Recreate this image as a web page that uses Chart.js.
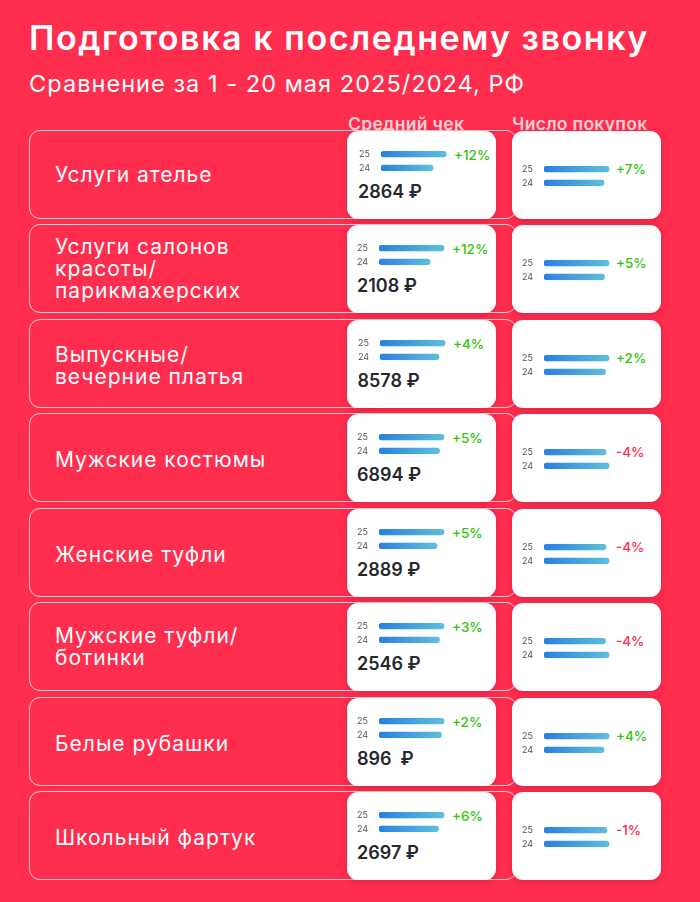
<!DOCTYPE html>
<html lang="ru">
<head>
<meta charset="utf-8">
<script src="https://cdn.jsdelivr.net/npm/chart.js@4"></script>
<style>
  html, body { margin: 0; padding: 0; }
  body {
    width: 700px; height: 902px; overflow: hidden; position: relative;
    background: #ff2d4e; font-family: Inter, "Noto Sans", sans-serif; color: #fff;
  }
  #title { position: absolute; left: 29px; top: 17px; font-size: 34px; font-weight: 600; letter-spacing: 1.55px; white-space: nowrap; }
  #subtitle { position: absolute; left: 29px; top: 69px; font-size: 23.5px; font-weight: 400; letter-spacing: 1.05px; white-space: nowrap; }
  .head { position: absolute; top: 113px; font-size: 17.5px; font-weight: 600; letter-spacing: .3px; color: #ffd0d8; white-space: nowrap; }
  .row {
    position: absolute; left: 29px; width: 486px; height: 87px; box-sizing: content-box;
    border: 1px solid rgba(255,255,255,.75); border-radius: 11px;
  }
  .name {
    position: absolute; left: 25px; height: 87px; display: flex; align-items: center;
    font-size: 21px; line-height: 22px; font-weight: 400; letter-spacing: 1px; white-space: pre-line;
  }
  .card {
    position: absolute; width: 149px; height: 88px; background: #fff; border-radius: 11px;
    box-shadow: 0 2px 7px rgba(150,20,50,.3);
  }
  .card canvas { position: absolute; }
  .delta { position: absolute; font-size: 13.5px; font-weight: 500; white-space: nowrap; }
  .price { position: absolute; top: 50px; font-size: 18px; font-weight: 600; color: #27272f; white-space: pre; }
</style>
</head>
<body>
<div id="title">Подготовка к последнему звонку</div>
<div id="subtitle">Сравнение за 1 - 20 мая 2025/2024, РФ</div>
<div class="head" style="left:348px">Средний чек</div>
<div class="head" style="left:512px">Число покупок</div>
<script>
const categories = ['Услуги ателье', 'Услуги салонов\nкрасоты/\nпарикмахерских', 'Выпускные/\nвечерние платья', 'Мужские костюмы',
  'Женские туфли', 'Мужские туфли/\nботинки', 'Белые рубашки', 'Школьный фартук']
const years = ['25', '24']
const check25 = [65, 65, 65, 65, 65, 65, 65, 65]
const check24 = [52, 51, 59, 60.5, 58, 60.5, 62.5, 59.5]
const checkDelta = ['+12%', '+12%', '+4%', '+5%', '+5%', '+3%', '+2%', '+6%']
const checkPrice = ['2864 ₽', '2108 ₽', '8578 ₽', '6894 ₽', '2889 ₽', '2546 ₽', '896  ₽', '2697 ₽']
const buys25 = [65, 65, 65, 62, 62, 61.5, 65, 63]
const buys24 = [60, 60.5, 61.5, 65, 65, 65, 60, 65]
const buysDelta = ['+7%', '+5%', '+2%', '-4%', '-4%', '-4%', '+4%', '-1%']

const rowTops = [131, 225, 320, 414, 509, 603, 698, 792]
const nameShift = [0, 0, 2, 2, 2, 0, 2, 2]
const checkShift = [2, 0, 1, 0, 0, 0, 0, 0]
const GREEN = '#2fc60a', RED = '#ff2d4e'

// each bar gets its own left-to-right gradient
function barGradient(ctx) {
  const chart = ctx.chart
  if (!chart.chartArea || ctx.raw === undefined) return '#2f86e0'
  const x = chart.scales.x
  const g = chart.ctx.createLinearGradient(x.getPixelForValue(0), 0, x.getPixelForValue(ctx.raw), 0)
  g.addColorStop(0, '#2a80e2')
  g.addColorStop(1, '#5dbfdb')
  return g
}

function createChart(card, v25, v24, left, top) {
  const canvas = document.createElement('canvas')
  canvas.style.left = left + 'px'
  canvas.style.top = top + 'px'
  canvas.style.width = '98px'
  canvas.style.height = '38px'
  canvas.width = 98
  canvas.height = 38
  card.appendChild(canvas)
  new Chart(canvas, {
    type: 'bar',
    data: {
      labels: years,
      datasets: [{
        data: [v25, v24],
        backgroundColor: barGradient,
        borderRadius: 3,
        borderSkipped: false,
        barThickness: 5.5
      }]
    },
    options: {
      indexAxis: 'y',
      responsive: false,
      animation: false,
      events: [],
      layout: { padding: { left: 10 } },
      plugins: { legend: { display: false }, tooltip: { enabled: false } },
      scales: {
        x: { display: false, min: 0, max: 66 },
        y: {
          // tick padding eats the plot height, so the gap to the bars comes from the axis width
          afterFit(scale) { scale.width = 22 },
          border: { display: false },
          grid: { display: false, drawTicks: false },
          ticks: { color: '#555', padding: 0, crossAlign: 'far', font: { family: 'Inter', size: 9 } }
        }
      }
    }
  })
}

function addCard(left, top, shift, delta, chartTop, deltaLeft, deltaTop, v25, v24, price) {
  const card = document.createElement('div')
  card.className = 'card'
  card.style.left = left + 'px'
  card.style.top = top + 'px'
  document.body.appendChild(card)
  createChart(card, v25, v24, shift, chartTop)
  const d = document.createElement('div')
  d.className = 'delta'
  d.textContent = delta
  d.style.left = deltaLeft + shift + 'px'
  d.style.top = deltaTop + 'px'
  d.style.color = delta[0] === '-' ? RED : GREEN
  card.appendChild(d)
  if (price) {
    const p = document.createElement('div')
    p.className = 'price'
    p.textContent = price
    p.style.left = 10 + shift * 0.5 + 'px'
    card.appendChild(p)
  }
}

categories.forEach((name, i) => {
  const row = document.createElement('div')
  row.className = 'row'
  row.style.top = rowTops[i] - 1 + 'px'
  const label = document.createElement('div')
  label.className = 'name'
  label.style.top = nameShift[i] + 'px'
  label.textContent = name
  row.appendChild(label)
  document.body.appendChild(row)
  addCard(347, rowTops[i], checkShift[i], checkDelta[i], 11, 105, 15.5, check25[i], check24[i], checkPrice[i])
  addCard(512, rowTops[i], -0.5, buysDelta[i], 25.5, 104.5, 30, buys25[i], buys24[i], null)
})
</script>
</body>
</html>
